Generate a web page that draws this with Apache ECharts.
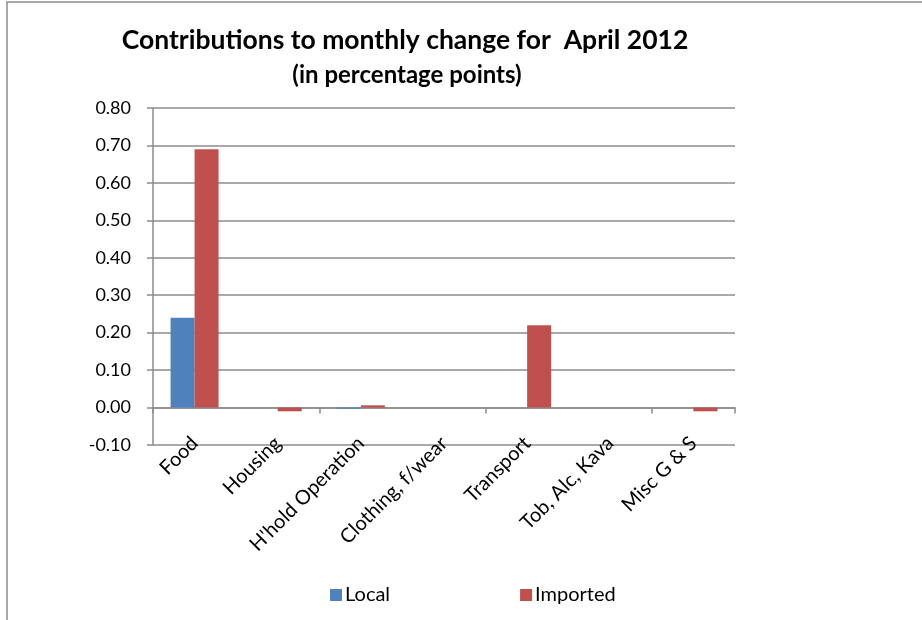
<!DOCTYPE html>
<html>
<head>
<meta charset="utf-8">
<script src="https://cdn.jsdelivr.net/npm/echarts@6/dist/echarts.min.js"></script>
<style>html,body{margin:0;padding:0;background:#fff}#c{width:922px;height:620px}</style>
</head>
<body>
<div id="c"></div>
<script>
const categories = ["Food", "Housing", "H'hold Operation", "Clothing, f/wear", "Transport", "Tob, Alc, Kava", "Misc G & S"];
const localValues = [0.24, 0, -0.003, 0, 0, 0, 0];
const importedValues = [0.69, -0.01, 0.006, 0, 0.22, 0, -0.01];
const yTicks = { min: -0.1, max: 0.8, interval: 0.1 };
const titleText = "Contributions to monthly change for  April 2012";
const subtitleText = "(in percentage points)";

const font = "Lato, 'Open Sans', sans-serif";
const chart = echarts.init(document.getElementById('c'));
chart.setOption({
  animation: false,
  backgroundColor: '#fff',
  graphic: [{
    type: 'rect', shape: { x: 7, y: 2, width: 930, height: 640 },
    style: { fill: 'none', stroke: '#8c8c8c', lineWidth: 1.5 }, silent: true
  }],
  title: [{
    text: titleText, left: 400, top: 22, textAlign: 'center',
    textStyle: { fontFamily: font, fontWeight: 'bold', fontSize: 26.5, color: '#000' }
  }, {
    text: subtitleText, left: 402, top: 58, textAlign: 'center',
    textStyle: { fontFamily: font, fontWeight: 'bold', fontSize: 24, color: '#000' }
  }],
  legend: {
    left: 325, top: 580, itemWidth: 12, itemHeight: 12, itemGap: 130,
    icon: 'rect',
    textStyle: { fontFamily: font, fontSize: 20, color: '#000', padding: [0, 0, 0, -2] },
    data: ['Local', 'Imported']
  },
  grid: { left: 153, right: 187, top: 108, bottom: 175, containLabel: false },
  xAxis: [{
    type: 'category', data: categories, position: 'bottom',
    axisLine: { onZero: true, lineStyle: { color: '#8c8c8c', width: 1.5 } },
    axisTick: { show: true, length: 6, lineStyle: { color: '#8c8c8c', width: 1.5 } },
    axisLabel: { show: false }
  }, {
    type: 'category', data: categories, position: 'bottom',
    axisLine: { show: false, onZero: false },
    axisTick: { show: false },
    axisLabel: { show: true, rotate: 45, margin: -5, fontFamily: font, fontSize: 20, color: '#000' }
  }],
  yAxis: {
    type: 'value', min: yTicks.min, max: yTicks.max, interval: yTicks.interval,
    axisLine: { show: true, lineStyle: { color: '#8c8c8c', width: 1.5 } },
    axisTick: { show: true, length: 6, lineStyle: { color: '#8c8c8c', width: 1.5 } },
    splitLine: { lineStyle: { color: '#8c8c8c', width: 1.5 } },
    axisLabel: { margin: 22, fontFamily: font, fontSize: 18, color: '#000',
      formatter: v => v.toFixed(2) }
  },
  series: [{
    name: 'Local', type: 'bar', xAxisIndex: 0, data: localValues,
    barWidth: 24, barGap: '0%', itemStyle: { color: '#4f81bd' }
  }, {
    name: 'Imported', type: 'bar', xAxisIndex: 0, data: importedValues,
    barWidth: 24, barGap: '0%', itemStyle: { color: '#c0504d' }
  }]
});
</script>
</body>
</html>
